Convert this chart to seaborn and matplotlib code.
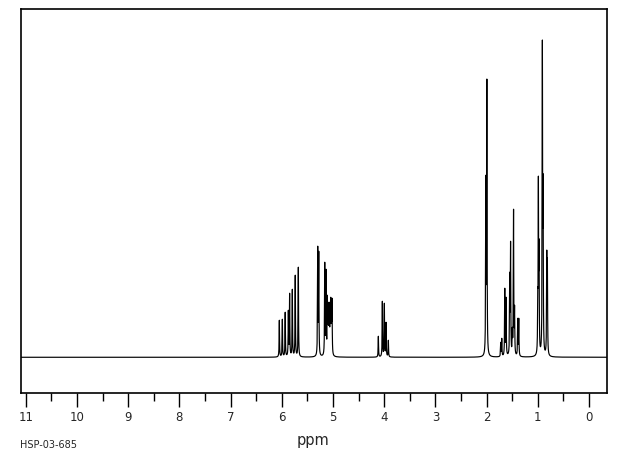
import numpy as np
import pandas as pd
import matplotlib
matplotlib.use("Agg")
import matplotlib.pyplot as plt
import seaborn as sns

# Peak list (chemical shift in ppm, apparent height in px above baseline)
shift_vinyl = [6.049, 5.990, 5.934, 5.873, 5.848, 5.795, 5.738, 5.678]
height_vinyl = [37, 38, 45, 47, 64, 68, 82, 90]

shift_olefin = [5.299, 5.279, 5.162, 5.137, 5.111, 5.098, 5.085, 5.072, 5.058, 5.045, 5.032, 5.020]
height_olefin = [111, 106, 95, 88, 62, 55, 48, 55, 50, 60, 50, 59]

shift_och = [4.115, 4.037, 3.998, 3.965, 3.920]
height_och = [21, 56, 54, 35, 17]

shift_singlet = [2.016, 1.996]
height_singlet = [182, 278]

shift_ch2 = [1.725, 1.705, 1.646, 1.621, 1.549, 1.533, 1.498, 1.475, 1.455, 1.393, 1.373]
height_ch2 = [15, 19, 69, 60, 85, 116, 30, 148, 52, 39, 39]

shift_ch3 = [1.002, 0.990, 0.977, 0.912, 0.898, 0.826, 0.814]
height_ch3 = [69, 181, 118, 317, 183, 107, 99]

major_ticks = list(range(0, 12))
tick_labels = [str(t) for t in major_ticks]

# ---- build spectrum from the peak list ----
shifts = np.array(shift_vinyl + shift_olefin + shift_och + shift_singlet + shift_ch2 + shift_ch3)
heights = np.array(height_vinyl + height_olefin + height_och + height_singlet + height_ch2 + height_ch3, float)
hw = 0.0045  # half width at half maximum (ppm)

def lor(x, c):
    return 1.0 / (1.0 + ((x - c) / hw) ** 2)

# solve for amplitudes so the summed curve hits the read heights at each line
M = lor(shifts[:, None], shifts[None, :])
amps = np.linalg.solve(M, heights)
amps = np.clip(amps, 0, None)

x = np.linspace(-0.4, 11.2, 40000)
y = (amps[None, :] * lor(x[:, None], shifts[None, :])).sum(axis=1)
df = pd.DataFrame({"ppm": x, "intensity": y})

# ---- plot ----
sns.set_style("white")
fig = plt.figure(figsize=(6.2, 4.55), dpi=100)
ax = fig.add_axes([20.7 / 620, 1 - 393.3 / 455, (607 - 20.7) / 620, (393.3 - 9.5) / 455])
sns.lineplot(data=df, x="ppm", y="intensity", ax=ax, color="black", linewidth=0.85, sort=False)

ax.set_xlim(11.10, -0.35)
ax.set_ylim(-36, 347.5)
ax.set_yticks([])
ax.set_xticks(major_ticks)
ax.set_xticklabels(tick_labels, fontsize=8.5)
ax.set_xticks(np.arange(0.5, 11.0, 1.0), minor=True)
ax.tick_params(axis="x", which="major", direction="out", length=10, width=1, color="black", pad=3, bottom=True)
ax.tick_params(axis="x", which="minor", direction="out", length=6, width=1, color="black", bottom=True)
ax.set_xlabel("")
ax.set_ylabel("")
for s in ax.spines.values():
    s.set_visible(True)
    s.set_color("black")
    s.set_linewidth(1.2)

fig.text(313 / 620, 1 - 441 / 455, "ppm", ha="center", va="center", fontsize=10.5)
fig.text(20 / 620, 1 - 445 / 455, "HSP-03-685", ha="left", va="center", fontsize=7)

fig.savefig("out.png", dpi=100, facecolor="white")
